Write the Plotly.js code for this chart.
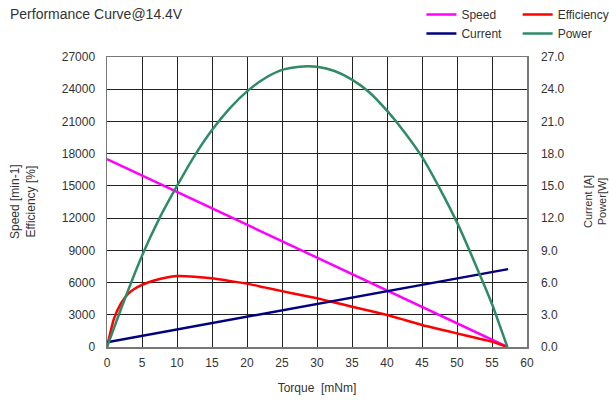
<!DOCTYPE html>
<html><head><meta charset="utf-8">
<script src="https://cdn.plot.ly/plotly-3.0.1.min.js"></script>
<style>html,body{margin:0;padding:0;background:#fff}#chart{width:609px;height:401px}</style>
</head><body><div id="chart"></div>
<script>
// Data
const chartTitle = "Performance Curve@14.4V";
const speedTorque = [0, 57.2];
const speedValues = [17500, 0];            // min-1 (left axis)
const effTorque = [0, 1, 2, 3, 4, 5, 6.5, 8.5, 10, 12.5, 15, 17.5, 20, 22.5, 25, 27.5, 30, 32.5, 35, 37.5, 40, 42.5, 45, 47.5, 50, 52.5, 55, 57.2];
const effValues = [0, 2650, 4050, 4950, 5450, 5780, 6150, 6480, 6600, 6550, 6400, 6150, 5900, 5550, 5200, 4870, 4530, 4150, 3750, 3370, 2980, 2520, 2050, 1650, 1270, 880, 500, 0]; // left axis scale
const currentTorque = [0, 10, 20, 30, 40, 50, 57.3];
const currentValues = [0.45, 1.64, 2.83, 4.02, 5.21, 6.4, 7.25]; // A (right axis)
const powerTorque = [0, 2.5, 5, 7.5, 10, 12.5, 15, 17.5, 20, 22.5, 25, 27.5, 28.6, 30, 32.5, 35, 37.5, 40, 42.5, 45, 47.5, 50, 52.5, 55, 56, 57.2];
const powerValues = [0, 4.4, 8.5, 12.0, 15.0, 17.8, 20.2, 22.2, 23.8, 25.0, 25.8, 26.1, 26.15, 26.1, 25.7, 24.9, 23.7, 22.0, 20.0, 17.7, 14.8, 11.6, 7.9, 4.0, 2.2, 0]; // W (right axis)
const leftTicks = [0, 3000, 6000, 9000, 12000, 15000, 18000, 21000, 24000, 27000];
const leftTickText = ["0", "3000", "6000", "9000", "12000", "15000", "18000", "21000", "24000", "27000"];
const rightTicks = [0, 3, 6, 9, 12, 15, 18, 21, 24, 27];
const rightTickText = ["0.0", "3.0", "6.0", "9.0", "12.0", "15.0", "18.0", "21.0", "24.0", "27.0"];
const xTicks = [0, 5, 10, 15, 20, 25, 30, 35, 40, 45, 50, 55, 60];

const FONT = "Liberation Sans, Arial, sans-serif";
const traces = [
  {x: speedTorque, y: speedValues, name: "Speed", mode: "lines", line: {color: "#ff00ff", width: 2.5}, yaxis: "y", legend: "legend"},
  {x: effTorque, y: effValues, name: "Efficiency", mode: "lines", line: {color: "#ff0000", width: 2.5, shape: "spline", smoothing: 0.6}, yaxis: "y", legend: "legend2"},
  {x: currentTorque, y: currentValues, name: "Current", mode: "lines", line: {color: "#000080", width: 2.5}, yaxis: "y2", legend: "legend"},
  {x: powerTorque, y: powerValues, name: "Power", mode: "lines", line: {color: "#2e8b66", width: 2.5, shape: "spline", smoothing: 0.6}, yaxis: "y2", legend: "legend2"}
];
const gridAxis = {showgrid: true, gridcolor: "#222", gridwidth: 1, showline: true, linecolor: "#777", linewidth: 1.5, zeroline: false, ticks: "", automargin: false, tickfont: {family: FONT, size: 12, color: "#333"}};
const legendBase = {xref: "container", yref: "container", y: 1.014, xanchor: "left", yanchor: "top", orientation: "v", font: {family: FONT, size: 12, color: "#333"}, itemwidth: 30, tracegroupgap: 0, bgcolor: "rgba(0,0,0,0)"};
const layout = {
  width: 609, height: 401,
  margin: {l: 107, r: 82, t: 57, b: 54, autoexpand: false},
  paper_bgcolor: "#fff", plot_bgcolor: "#fff",
  title: {text: chartTitle, x: 0, xref: "container", xanchor: "left", pad: {l: 10}, y: 0.965, yanchor: "middle", font: {family: FONT, size: 14, color: "#333"}},
  xaxis: Object.assign({}, gridAxis, {range: [0, 60], tickvals: xTicks, mirror: true, ticklabelstandoff: 4,
    title: {text: "Torque  [mNm]", font: {family: FONT, size: 12, color: "#333"}, standoff: 14}}),
  yaxis: Object.assign({}, gridAxis, {range: [0, 27000], tickvals: leftTicks, ticktext: leftTickText, ticklabelstandoff: 8, mirror: true}),
  yaxis2: Object.assign({}, gridAxis, {range: [0, 27], tickvals: rightTicks, ticktext: rightTickText, overlaying: "y", side: "right", showgrid: false, ticklabelstandoff: 10}),
  legend: Object.assign({}, legendBase, {x: 0.692}),
  legend2: Object.assign({}, legendBase, {x: 0.85}),
  annotations: [
    {text: "Speed [min-1]<br>Efficiency [%]", xref: "paper", yref: "paper", x: -0.2, y: 0.5, xanchor: "center", yanchor: "middle", textangle: -90, showarrow: false, font: {family: FONT, size: 12, color: "#333"}},
    {text: "Current [A]<br>Power[W]", xref: "paper", yref: "paper", x: 1.162, y: 0.5, xanchor: "center", yanchor: "middle", textangle: -90, showarrow: false, font: {family: FONT, size: 11, color: "#333"}}
  ],
  showlegend: true
};
Plotly.newPlot("chart", traces, layout, {displayModeBar: false, staticPlot: true});
</script></body></html>
